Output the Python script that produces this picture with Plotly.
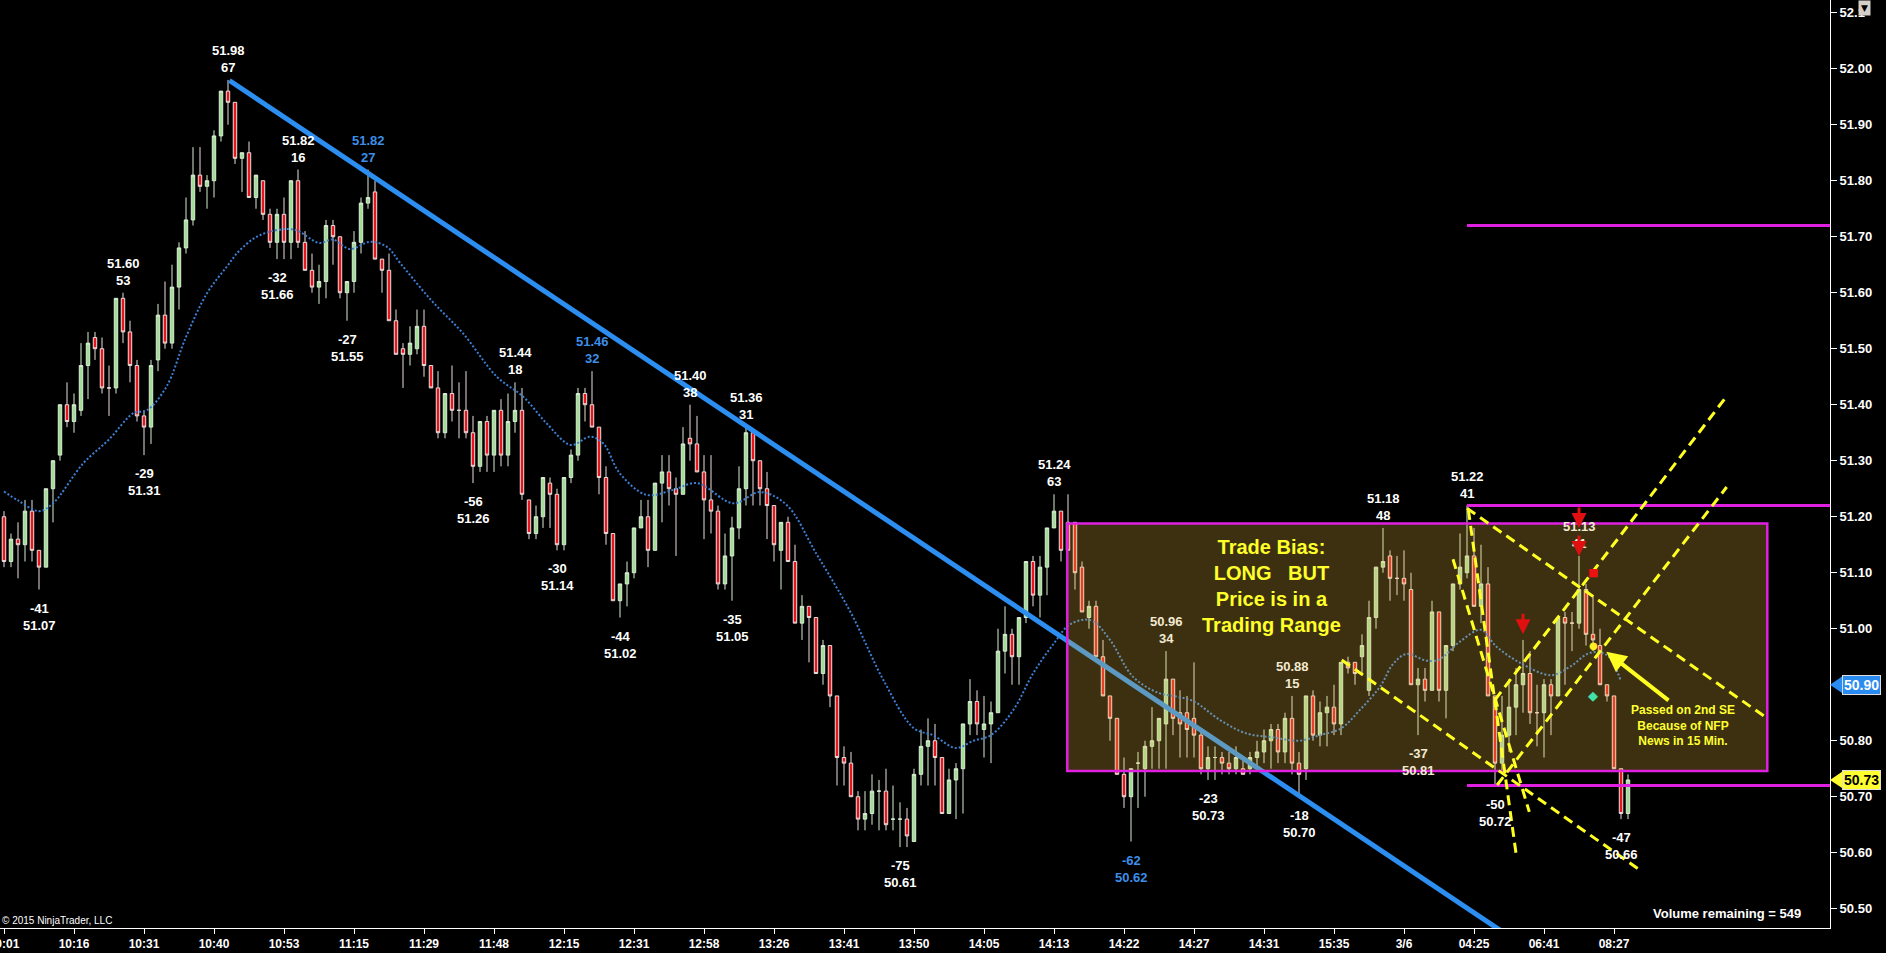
import plotly.graph_objs as go

# ---- data (bar index = position on the tick chart) ----
time_ticks = [0, 10, 20, 30, 40, 50, 60, 70, 80, 90, 100, 110,
              120, 130, 140, 150, 160, 170, 180, 190, 200, 210, 220, 230]
time_labels = ['10:01', '10:16', '10:31', '10:40', '10:53', '11:15', '11:29', '11:48',
               '12:15', '12:31', '12:58', '13:26', '13:41', '13:50', '14:05', '14:13',
               '14:22', '14:27', '14:31', '15:35', '3/6', '04:25', '06:41', '08:27']

price_ticks = [50.50, 50.60, 50.70, 50.80, 50.90, 51.00, 51.10, 51.20, 51.30,
               51.40, 51.50, 51.60, 51.70, 51.80, 51.90, 52.00, 52.10]
price_labels = ['50.50', '50.60', '50.70', '50.80', '50.90', '51.00', '51.10', '51.20', '51.30',
                '51.40', '51.50', '51.60', '51.70', '51.80', '51.90', '52.00', '52.1']

opens = [51.20, 51.12, 51.16, 51.15, 51.21, 51.14, 51.11, 51.25, 51.31, 51.40,
         51.37, 51.39, 51.47, 51.52, 51.50, 51.43, 51.43, 51.59, 51.53, 51.47,
         51.38, 51.36, 51.48, 51.56, 51.51, 51.61, 51.68, 51.73, 51.81, 51.79,
         51.80, 51.88, 51.96, 51.94, 51.84, 51.85, 51.77, 51.80, 51.74, 51.69,
         51.74, 51.69, 51.80, 51.69, 51.64, 51.61, 51.62, 51.72, 51.70, 51.60,
         51.62, 51.69, 51.76, 51.78, 51.66, 51.64, 51.55, 51.50, 51.49, 51.50,
         51.54, 51.47, 51.43, 51.35, 51.42, 51.39, 51.39, 51.35, 51.29, 51.37,
         51.31, 51.39, 51.31, 51.37, 51.39, 51.23, 51.17, 51.20, 51.26, 51.24,
         51.15, 51.27, 51.31, 51.42, 51.40, 51.36, 51.27, 51.17, 51.05, 51.08,
         51.10, 51.18, 51.20, 51.14, 51.26, 51.28, 51.25, 51.24, 51.34, 51.33,
         51.28, 51.23, 51.21, 51.08, 51.13, 51.18, 51.25, 51.35, 51.30, 51.25,
         51.22, 51.14, 51.19, 51.12, 51.01, 51.04, 51.02, 50.92, 50.97, 50.88,
         50.77, 50.76, 50.70, 50.66, 50.67, 50.71, 50.71, 50.66, 50.66, 50.66,
         50.62, 50.74, 50.79, 50.80, 50.77, 50.67, 50.73, 50.75, 50.83, 50.87,
         50.82, 50.83, 50.85, 50.96, 50.99, 50.95, 51.02, 51.12, 51.06, 51.11,
         51.18, 51.21, 51.19, 51.19, 51.11, 51.02, 51.04, 50.95, 50.88, 50.84,
         50.74, 50.70, 50.76, 50.75, 50.79, 50.80, 50.83, 50.91, 50.85, 50.85,
         50.84, 50.81, 50.75, 50.77, 50.77, 50.76, 50.75, 50.75, 50.75, 50.77,
         50.78, 50.80, 50.82, 50.78, 50.84, 50.76, 50.75, 50.88, 50.81, 50.85,
         50.86, 50.83, 50.94, 50.94, 50.95, 50.89, 51.02, 51.11, 51.13, 51.09,
         51.09, 51.07, 50.90, 50.91, 50.89, 51.03, 50.89, 50.97, 51.08, 51.10,
         51.13, 51.04, 51.08, 50.88, 50.76, 50.81, 50.86, 50.90, 50.92, 50.85,
         50.85, 50.90, 50.88, 51.02, 51.01, 51.01, 51.07, 50.99, 50.97, 50.90,
         50.88, 50.75, 50.67]
highs = [51.21, 51.17, 51.19, 51.23, 51.23, 51.14, 51.25, 51.30, 51.40, 51.44,
         51.42, 51.51, 51.53, 51.53, 51.52, 51.47, 51.59, 51.60, 51.55, 51.48,
         51.39, 51.48, 51.58, 51.62, 51.65, 51.69, 51.77, 51.86, 51.86, 51.81,
         51.89, 51.96, 51.98, 51.94, 51.85, 51.87, 51.81, 51.80, 51.75, 51.75,
         51.77, 51.80, 51.82, 51.71, 51.67, 51.65, 51.73, 51.73, 51.70, 51.62,
         51.71, 51.77, 51.82, 51.80, 51.66, 51.67, 51.57, 51.51, 51.54, 51.57,
         51.57, 51.47, 51.46, 51.42, 51.47, 51.44, 51.46, 51.38, 51.37, 51.38,
         51.39, 51.41, 51.42, 51.44, 51.43, 51.23, 51.22, 51.27, 51.27, 51.25,
         51.27, 51.32, 51.43, 51.43, 51.46, 51.36, 51.29, 51.17, 51.08, 51.12,
         51.18, 51.23, 51.23, 51.26, 51.31, 51.31, 51.27, 51.36, 51.40, 51.38,
         51.31, 51.31, 51.22, 51.17, 51.20, 51.29, 51.36, 51.35, 51.30, 51.28,
         51.22, 51.19, 51.20, 51.15, 51.06, 51.04, 51.02, 50.98, 50.97, 50.88,
         50.79, 50.78, 50.71, 50.71, 50.74, 50.73, 50.75, 50.72, 50.69, 50.68,
         50.75, 50.82, 50.84, 50.83, 50.77, 50.75, 50.76, 50.83, 50.91, 50.89,
         50.88, 50.87, 51.00, 51.04, 51.00, 51.02, 51.12, 51.13, 51.13, 51.18,
         51.24, 51.21, 51.24, 51.19, 51.12, 51.05, 51.05, 50.98, 50.88, 50.84,
         50.77, 50.75, 50.78, 50.80, 50.86, 50.84, 50.96, 50.91, 50.89, 50.88,
         50.94, 50.82, 50.79, 50.79, 50.78, 50.78, 50.79, 50.77, 50.78, 50.80,
         50.82, 50.83, 50.83, 50.85, 50.88, 50.78, 50.88, 50.89, 50.87, 50.88,
         50.90, 50.94, 50.95, 50.94, 50.99, 51.05, 51.11, 51.18, 51.14, 51.13,
         51.14, 51.10, 50.93, 50.93, 51.05, 51.03, 50.97, 51.08, 51.17, 51.22,
         51.18, 51.15, 51.11, 50.88, 50.88, 50.91, 50.93, 50.98, 50.96, 50.90,
         50.91, 50.91, 51.02, 51.03, 51.03, 51.13, 51.08, 51.06, 51.00, 50.90,
         50.88, 50.75, 50.74]
lows = [51.11, 51.11, 51.09, 51.12, 51.12, 51.07, 51.11, 51.19, 51.30, 51.36,
        51.35, 51.38, 51.41, 51.48, 51.42, 51.38, 51.42, 51.51, 51.44, 51.37,
        51.31, 51.33, 51.46, 51.50, 51.50, 51.57, 51.67, 51.72, 51.78, 51.75,
        51.77, 51.87, 51.90, 51.83, 51.78, 51.77, 51.75, 51.73, 51.68, 51.66,
        51.66, 51.66, 51.68, 51.64, 51.60, 51.58, 51.59, 51.65, 51.59, 51.55,
        51.60, 51.67, 51.75, 51.66, 51.60, 51.55, 51.49, 51.43, 51.47, 51.49,
        51.45, 51.43, 51.34, 51.34, 51.37, 51.34, 51.34, 51.26, 51.28, 51.28,
        51.28, 51.29, 51.29, 51.35, 51.23, 51.16, 51.16, 51.18, 51.18, 51.14,
        51.14, 51.26, 51.30, 51.37, 51.36, 51.24, 51.15, 51.05, 51.02, 51.04,
        51.09, 51.18, 51.11, 51.14, 51.19, 51.22, 51.13, 51.24, 51.30, 51.28,
        51.16, 51.17, 51.07, 51.07, 51.05, 51.16, 51.22, 51.22, 51.22, 51.16,
        51.12, 51.07, 51.12, 51.01, 50.98, 50.94, 50.92, 50.90, 50.86, 50.72,
        50.72, 50.70, 50.64, 50.64, 50.65, 50.64, 50.64, 50.64, 50.61, 50.61,
        50.62, 50.72, 50.72, 50.72, 50.67, 50.67, 50.66, 50.67, 50.81, 50.81,
        50.77, 50.76, 50.85, 50.92, 50.90, 50.90, 51.01, 51.04, 51.02, 51.06,
        51.18, 51.12, 51.14, 51.07, 51.03, 51.00, 50.95, 50.88, 50.80, 50.74,
        50.68, 50.62, 50.68, 50.70, 50.75, 50.75, 50.75, 50.81, 50.77, 50.77,
        50.77, 50.74, 50.73, 50.73, 50.74, 50.74, 50.74, 50.74, 50.74, 50.75,
        50.76, 50.75, 50.76, 50.76, 50.74, 50.70, 50.73, 50.80, 50.79, 50.79,
        50.81, 50.81, 50.92, 50.90, 50.92, 50.88, 51.00, 51.10, 51.05, 51.06,
        51.05, 50.90, 50.81, 50.87, 50.89, 50.87, 50.84, 50.96, 51.07, 51.09,
        51.04, 51.01, 50.88, 50.72, 50.74, 50.78, 50.81, 50.85, 50.83, 50.79,
        50.77, 50.81, 50.88, 50.90, 50.96, 51.00, 50.97, 50.96, 50.90, 50.87,
        50.75, 50.66, 50.66]
closes = [51.12, 51.16, 51.15, 51.21, 51.14, 51.11, 51.25, 51.30, 51.40, 51.37,
          51.40, 51.47, 51.51, 51.50, 51.43, 51.43, 51.59, 51.53, 51.47, 51.38,
          51.36, 51.47, 51.56, 51.51, 51.61, 51.68, 51.73, 51.81, 51.79, 51.80,
          51.88, 51.96, 51.94, 51.84, 51.85, 51.77, 51.81, 51.74, 51.69, 51.74,
          51.69, 51.80, 51.69, 51.64, 51.61, 51.62, 51.72, 51.70, 51.60, 51.62,
          51.69, 51.76, 51.77, 51.66, 51.64, 51.55, 51.49, 51.49, 51.51, 51.54,
          51.47, 51.43, 51.35, 51.42, 51.39, 51.39, 51.35, 51.29, 51.37, 51.31,
          51.39, 51.31, 51.37, 51.39, 51.24, 51.17, 51.20, 51.27, 51.24, 51.15,
          51.27, 51.31, 51.42, 51.40, 51.36, 51.27, 51.17, 51.05, 51.08, 51.10,
          51.18, 51.20, 51.14, 51.26, 51.28, 51.25, 51.24, 51.33, 51.33, 51.28,
          51.23, 51.21, 51.08, 51.13, 51.18, 51.25, 51.35, 51.30, 51.25, 51.22,
          51.15, 51.19, 51.12, 51.01, 51.04, 51.02, 50.92, 50.97, 50.88, 50.77,
          50.76, 50.70, 50.66, 50.67, 50.71, 50.71, 50.65, 50.66, 50.66, 50.63,
          50.74, 50.79, 50.80, 50.77, 50.67, 50.73, 50.75, 50.83, 50.87, 50.83,
          50.83, 50.85, 50.96, 50.99, 50.95, 51.02, 51.12, 51.06, 51.11, 51.18,
          51.21, 51.14, 51.14, 51.10, 51.03, 51.04, 50.95, 50.88, 50.84, 50.74,
          50.70, 50.75, 50.76, 50.79, 50.80, 50.84, 50.91, 50.84, 50.83, 50.82,
          50.81, 50.75, 50.77, 50.77, 50.76, 50.75, 50.77, 50.74, 50.77, 50.78,
          50.80, 50.82, 50.78, 50.84, 50.76, 50.74, 50.88, 50.81, 50.85, 50.86,
          50.83, 50.94, 50.93, 50.92, 50.97, 51.02, 51.11, 51.12, 51.09, 51.09,
          51.08, 50.90, 50.91, 50.89, 51.03, 50.89, 50.97, 51.08, 51.11, 51.13,
          51.04, 51.08, 50.88, 50.76, 50.81, 50.86, 50.90, 50.92, 50.85, 50.85,
          50.90, 50.88, 51.02, 51.01, 51.01, 51.07, 50.99, 50.98, 50.90, 50.88,
          50.75, 50.67, 50.73]

# dotted moving average, read at points along the curve
ma_bars = [0, 2, 5, 7, 11.3, 15, 18.5, 20.4, 23.2, 26, 29, 31.8, 33.7, 36.6, 41.3, 45, 47,
           49.4, 52.3, 54.7, 56.6, 61, 65.6, 70.4, 74.2, 77.5, 81, 83.7, 85.6, 88, 91.8,
           95.6, 99, 104.2, 108, 111.8, 116, 121, 125.6, 130, 132.7, 136, 138.5, 141,
           144.2, 147, 150, 152.3, 155.3, 158, 161.3, 165, 167.5, 170, 173.7, 177.5,
           181.3, 185, 188, 191, 193.7, 196.6, 198.5, 200.4, 203.2, 205, 208, 211,
           213.2, 216.6, 221, 223.7, 226.6, 229, 231]
ma_vals = [51.245, 51.229, 51.210, 51.224, 51.295, 51.338, 51.385, 51.390, 51.432, 51.521,
           51.599, 51.646, 51.676, 51.703, 51.713, 51.689, 51.695, 51.678, 51.691, 51.682,
           51.653, 51.587, 51.527, 51.450, 51.414, 51.367, 51.328, 51.343, 51.331, 51.277,
           51.239, 51.248, 51.260, 51.224, 51.244, 51.221, 51.135, 51.028, 50.909, 50.822,
           50.810, 50.787, 50.800, 50.810, 50.855, 50.920, 50.974, 51.008, 51.015, 50.980,
           50.914, 50.885, 50.879, 50.870, 50.837, 50.813, 50.806, 50.800, 50.810, 50.822,
           50.855, 50.897, 50.938, 50.955, 50.943, 50.945, 50.977, 50.998, 50.968, 50.939,
           50.917, 50.932, 50.957, 50.953, 50.906]
ma_marker = 50.90

# swing labels: bar, high/low, volume figure, colour group
swing_bars = [5, 17, 20, 32, 42, 52, 39, 49, 73, 84, 67, 79, 88, 98, 106, 104, 128,
              150, 161, 166, 172, 184, 185, 197, 202, 209, 225, 213, 231]
swing_kind = ['L', 'H', 'L', 'H', 'H', 'H', 'L', 'L', 'H', 'H', 'L', 'L', 'L', 'H', 'H', 'L', 'L',
              'H', 'L', 'H', 'L', 'H', 'L', 'H', 'L', 'H', 'H', 'L', 'L']
swing_vol = [-41, 53, -29, 67, 16, 27, -32, -27, 18, 32, -56, -30, -44, 38, 31, -35, -75,
             63, -62, 34, -23, 15, -18, 48, -37, 41, 41, -50, -47]
swing_blue = [52, 84, 161]
swing_inbox = [166, 184, 202, 225]

# drawings
trend_bars = [32.2, 215]
trend_prices = [51.979, 50.451]
range_box = [151.9, 251.9, 50.746, 51.188]     # x0, x1, y0, y1
level_start = 209
levels = [51.72, 51.22, 50.72]
yellow_lines = [[191.1, 50.944, 233.7, 50.569],
                [209.0, 51.215, 251.9, 50.840],
                [209.2, 51.212, 216.1, 50.590],
                [207.0, 51.124, 217.9, 50.673],
                [213.0, 50.873, 245.9, 51.412],
                [213.3, 50.721, 246.1, 51.253]]
signal_arrows = [[217, 50.99], [225, 51.18], [225, 51.13]]
sig_bar = 227
sig_square = 51.10
sig_dot = 50.97
sig_diamond = 50.88
note_arrow = [228.9, 50.959, 238.0, 50.870]   # head x,y / tail x,y
volume_left = 549

FONT = 'Arial, Liberation Sans, sans-serif'
TINT = '#f3ead2'

bars = list(range(len(opens)))
x_lo = -0.571
x_hi = 260.857

fig = go.Figure()
fig.add_trace(go.Candlestick(
    x=bars, open=opens, high=highs, low=lows, close=closes,
    increasing=dict(fillcolor='#a2dc96', line=dict(color='#d8eed4', width=1)),
    decreasing=dict(fillcolor='#e8161c', line=dict(color='#ecdede', width=1)),
    whiskerwidth=0, hoverinfo='skip', showlegend=False))

fig.add_trace(go.Scatter(x=ma_bars, y=ma_vals, mode='lines',
                         line=dict(color='#3b80d6', width=2, dash='2px,2px', shape='spline'),
                         hoverinfo='skip', showlegend=False))

fig.add_trace(go.Scatter(x=trend_bars, y=trend_prices, mode='lines',
                         line=dict(color='#2b8ef0', width=5),
                         hoverinfo='skip', showlegend=False))

# trading range box (tints what is beneath it)
fig.add_shape(type='rect', xref='x', yref='y', layer='above',
              x0=range_box[0], x1=range_box[1], y0=range_box[2], y1=range_box[3],
              fillcolor='rgba(240,192,64,0.25)', line=dict(color='#e020e0', width=2.5))

for lv in levels:
    fig.add_shape(type='line', xref='x', yref='y', layer='above',
                  x0=level_start, x1=x_hi, y0=lv, y1=lv,
                  line=dict(color='#e020e0', width=3))

for ln in yellow_lines:
    fig.add_shape(type='line', xref='x', yref='y', layer='above',
                  x0=ln[0], y0=ln[1], x1=ln[2], y1=ln[3],
                  line=dict(color='#ffff22', width=3, dash='10px,6px'))

# swing labels
for b, k, v in zip(swing_bars, swing_kind, swing_vol):
    col = 'white'
    if b in swing_blue:
        col = '#3d8ee8'
    if b in swing_inbox:
        col = TINT
    if k == 'H':
        fig.add_annotation(x=b, y=highs[b], text='%.2f<br>%d' % (highs[b], v),
                           yanchor='bottom', yshift=3, showarrow=False, xanchor='center',
                           font=dict(family=FONT, size=13, color=col, weight='bold'))
    else:
        fig.add_annotation(x=b, y=lows[b], text='%d<br>%.2f' % (v, lows[b]),
                           yanchor='top', yshift=-9, showarrow=False, xanchor='center',
                           font=dict(family=FONT, size=13, color=col, weight='bold'))

for a in signal_arrows:
    fig.add_annotation(x=a[0], y=a[1], text='', showarrow=True, ax=0, ay=-22,
                       arrowhead=2, arrowsize=1, arrowwidth=3, arrowcolor='#e01010', standoff=0)

fig.add_annotation(x=sig_bar, y=sig_square, text='■', showarrow=False,
                   font=dict(family='DejaVu Sans', size=11, color='#ee1111'))
fig.add_annotation(x=sig_bar, y=sig_dot, text='●', showarrow=False,
                   font=dict(family='DejaVu Sans', size=10, color='#ffee22'))
fig.add_annotation(x=sig_bar, y=sig_diamond, text='◆', showarrow=False,
                   font=dict(family='DejaVu Sans', size=13, color='#40e0a8'))

fig.add_annotation(x=note_arrow[0], y=note_arrow[1], ax=note_arrow[2], ay=note_arrow[3],
                   axref='x', ayref='y', text='', showarrow=True, arrowhead=2,
                   arrowsize=1, arrowwidth=4, arrowcolor='#ffff22', standoff=0)
fig.add_annotation(x=239.8, y=50.828, text='Passed on 2nd SE<br>Because of NFP<br>News in 15 Min.',
                   showarrow=False, font=dict(family=FONT, size=12, color='#ffff30', weight='bold'))

fig.add_annotation(x=181.1, y=51.076,
                   text='Trade Bias:<br>LONG\u00a0\u00a0\u00a0BUT<br>Price is in a<br>Trading Range',
                   showarrow=False, font=dict(family=FONT, size=20, color='#ffff2a', weight='bold'))

# price markers on the right axis
for val, bg, fg in [(ma_marker, '#2a8cf0', 'white'), (closes[-1], '#ffff30', 'black')]:
    fig.add_shape(type='path', xref='paper', yref='y', layer='above',
                  path='M 1.0,%f L 1.0068,%f L 1.0068,%f Z' % (val, val + 0.015, val - 0.015),
                  fillcolor=bg, line=dict(width=0))
    fig.add_annotation(xref='paper', x=1.0068, xanchor='left', y=val, yanchor='middle',
                       text='%.2f' % val, showarrow=False, bgcolor=bg, borderpad=1,
                       bordercolor='#dddddd', borderwidth=1,
                       font=dict(family=FONT, size=14, color=fg, weight='bold'))

fig.add_annotation(xref='paper', yref='paper', x=0.9852, xanchor='right', y=0.0151,
                   yanchor='middle', text='Volume remaining = %d' % volume_left, showarrow=False,
                   font=dict(family=FONT, size=13, color='white', weight='bold'))
fig.add_annotation(xref='paper', yref='paper', x=0, xanchor='left', y=0, yanchor='bottom',
                   text='© 2015 NinjaTrader, LLC', showarrow=False,
                   font=dict(family=FONT, size=10, color='white'))
fig.add_annotation(xref='paper', yref='paper', x=1.0153, xanchor='left', y=1, yanchor='top',
                   text='▼', showarrow=False, bgcolor='#d4d0c8', borderpad=2,
                   font=dict(family='DejaVu Sans', size=9, color='black'))

fig.update_layout(
    width=1886, height=953,
    margin=dict(l=0, r=56, t=0, b=25),
    paper_bgcolor='black', plot_bgcolor='black',
    showlegend=False,
    xaxis=dict(range=[x_lo, x_hi], tickvals=time_ticks, ticktext=time_labels,
               ticks='outside', ticklen=5, tickcolor='white', showline=True,
               linecolor='white', linewidth=1, showgrid=False, zeroline=False,
               rangeslider=dict(visible=False), ticklabeloverflow='allow',
               automargin=False,
               tickfont=dict(family=FONT, size=12, color='white', weight='bold')),
    yaxis=dict(range=[50.4656, 52.1227], side='right', tickvals=price_ticks,
               ticktext=price_labels, ticks='outside', ticklen=6, tickcolor='white',
               showline=True, linecolor='white', linewidth=1, showgrid=False,
               zeroline=False, automargin=False,
               tickfont=dict(family=FONT, size=13, color='white', weight='bold')),
)

# page margin off so the chart sits in the window corner
fig.write_html('out.html', config={'displayModeBar': False},
               post_script="document.body.style.margin='0';"
                           "document.body.style.background='black';"
                           "document.body.style.overflow='hidden';")
